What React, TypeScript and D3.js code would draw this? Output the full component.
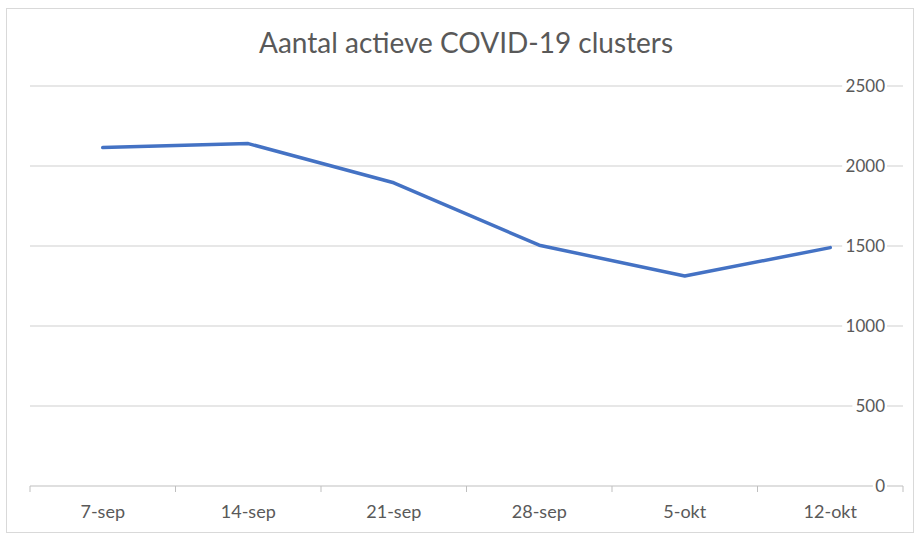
import React from "react";
import * as d3 from "d3";

const categories = ["7-sep", "14-sep", "21-sep", "28-sep", "5-okt", "12-okt"];
const values = [2115, 2140, 1895, 1505, 1312, 1490];
const yTicks = [0, 500, 1000, 1500, 2000, 2500];
const title = "Aantal actieve COVID-19 clusters";

const W = 914;
const H = 533;
const FONT = "Lato, 'Open Sans', sans-serif";

export default function App() {
  const left = 30;
  const right = 903;
  const top = 86;
  const bottom = 486;
  const x = d3.scaleBand<string>().domain(categories).range([left, right]);
  const y = d3.scaleLinear().domain([0, 2500]).range([bottom, top]);
  const line = d3
    .line<number>()
    .x((_, i) => (x(categories[i]) as number) + x.bandwidth() / 2)
    .y((d) => y(d));
  const tickXs = categories.map((c) => x(c) as number).concat([right]);
  return (
    <svg
      width={W}
      height={H}
      style={{ position: "absolute", left: 0, top: 0, background: "#fff" }}
    >
      <rect x={6.5} y={8.5} width={W - 7} height={H - 9} fill="#fff" stroke="#d9d9d9" strokeWidth={1} />
      <text
        x={466}
        y={53}
        textAnchor="middle"
        fontFamily={FONT}
        fontSize={28}
        fill="#595959"
      >
        {title}
      </text>
      {yTicks.slice(1).map((t) => (
        <line key={t} x1={left} x2={right} y1={y(t)} y2={y(t)} stroke="#cfcfcf" strokeWidth={1} />
      ))}
      <line x1={left} x2={right} y1={bottom} y2={bottom} stroke="#bfbfbf" strokeWidth={1} />
      {tickXs.map((tx, i) => (
        <line key={i} x1={tx} x2={tx} y1={bottom} y2={bottom + 6} stroke="#bfbfbf" strokeWidth={1} />
      ))}
      {yTicks.map((t) => (
        <g key={"l" + t}>
          <rect x={885 - t.toString().length * 10.2 - 2} y={y(t) - 8} width={t.toString().length * 10.2 + 4} height={16} fill="#fff" />
          <text
            x={885}
            y={y(t) + 6}
            textAnchor="end"
            fontFamily={FONT}
            fontSize={17}
            fill="#595959"
          >
            {t}
          </text>
        </g>
      ))}
      {categories.map((c) => (
        <text
          key={c}
          x={(x(c) as number) + x.bandwidth() / 2}
          y={518}
          textAnchor="middle"
          fontFamily={FONT}
          fontSize={18}
          fill="#595959"
        >
          {c}
        </text>
      ))}
      <path
        d={line(values) || ""}
        fill="none"
        stroke="#4472C4"
        strokeWidth={3.5}
        strokeLinejoin="round"
        strokeLinecap="round"
      />
    </svg>
  );
}
